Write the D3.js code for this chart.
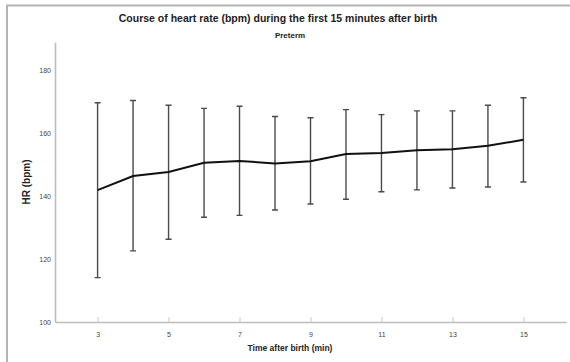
<!DOCTYPE html>
<html>
<head>
<meta charset="utf-8">
<script src="https://cdn.jsdelivr.net/npm/d3@7"></script>
<style>
    body { margin: 0; background: #fff; }
    text { font-family: "Liberation Sans", Arial, sans-serif; }
</style>
</head>
<body>
<div id="chart"></div>
<script>
    // minutes after birth
    var minutes = [3, 4, 5, 6, 7, 8, 9, 10, 11, 12, 13, 14, 15];
    // mean HR and error bar limits (bpm)
    var meanHR  = [141.9, 146.4, 147.7, 150.6, 151.2, 150.4, 151.1, 153.4, 153.7, 154.6, 154.9, 156.0, 157.9];
    var upperHR = [169.7, 170.4, 168.9, 167.9, 168.6, 165.3, 164.9, 167.5, 165.9, 167.1, 167.1, 168.9, 171.3];
    var lowerHR = [114.1, 122.6, 126.3, 133.3, 133.9, 135.6, 137.5, 139.0, 141.4, 142.0, 142.6, 142.9, 144.5];
    var xTicks = [3, 5, 7, 9, 11, 13, 15];
    var yTicks = [100, 120, 140, 160, 180];

    (function () {
        'use strict';

        var w = 570,
            h = 362,
            plotLeft = 55,
            plotRight = 566,
            plotTop = 42,
            plotBottom = 322,
            capW = 6;

        var rows = minutes.map(function (m, i) {
            return { x: m, mean: meanHR[i], hi: upperHR[i], lo: lowerHR[i] };
        });

        var x = d3.scaleLinear().domain([1.8, 16.2]).range([plotLeft, plotRight]);
        var y = d3.scaleLinear().domain([100, 189]).range([plotBottom, plotTop]);

        var svg = d3.select("#chart").append("svg")
            .attr("width", w)
            .attr("height", h);

        // outer frame (top and left edges only)
        svg.append("path")
            .attr("d", "M7,362V5.5H570")
            .attr("fill", "none")
            .attr("stroke", "#b4b4b4")
            .attr("stroke-width", 2);

        // titles
        svg.append("text")
            .attr("x", 278).attr("y", 22)
            .attr("text-anchor", "middle")
            .attr("font-size", 10.5).attr("font-weight", "bold")
            .attr("fill", "#222")
            .text("Course of heart rate (bpm) during the first 15 minutes after birth");
        svg.append("text")
            .attr("x", 290).attr("y", 37.5)
            .attr("text-anchor", "middle")
            .attr("font-size", 8).attr("font-weight", "bold")
            .attr("fill", "#222")
            .text("Preterm");

        // axes
        var xAxis = svg.append("g")
            .attr("transform", "translate(0," + plotBottom + ")")
            .call(d3.axisBottom(x).tickValues(xTicks).tickSizeInner(-5).tickSizeOuter(0).tickPadding(10));
        var yAxis = svg.append("g")
            .attr("transform", "translate(" + plotLeft + ",0)")
            .call(d3.axisLeft(y).tickValues(yTicks).tickSize(0).tickPadding(4));

        [xAxis, yAxis].forEach(function (g) {
            g.select(".domain").attr("stroke", "#bdbdbd").attr("stroke-width", 1.6);
            g.selectAll(".tick line").attr("stroke", "#c8c8c8");
            g.selectAll(".tick text")
                .attr("fill", "#444")
                .attr("font-size", 7)
                .attr("font-family", "Liberation Sans, Arial, sans-serif");
        });

        svg.append("text")
            .attr("transform", "translate(30,182) rotate(-90)")
            .attr("text-anchor", "middle")
            .attr("font-size", 10).attr("font-weight", "bold")
            .attr("fill", "#222")
            .text("HR (bpm)");
        svg.append("text")
            .attr("x", 290).attr("y", 351)
            .attr("text-anchor", "middle")
            .attr("font-size", 8.5).attr("font-weight", "bold")
            .attr("fill", "#222")
            .text("Time after birth (min)");

        // error bars
        var bars = svg.append("g")
            .attr("stroke", "#4a4a4a")
            .attr("stroke-width", 1.4)
            .attr("fill", "none");
        bars.selectAll("path")
            .data(rows)
            .enter().append("path")
            .attr("d", function (d) {
                var cx = x(d.x);
                return "M" + (cx - capW / 2) + "," + y(d.hi) + "H" + (cx + capW / 2) +
                    "M" + cx + "," + y(d.hi) + "V" + y(d.lo) +
                    "M" + (cx - capW / 2) + "," + y(d.lo) + "H" + (cx + capW / 2);
            });

        // mean line
        var line = d3.line()
            .x(function (d) { return x(d.x); })
            .y(function (d) { return y(d.mean); });
        svg.append("path")
            .datum(rows)
            .attr("d", line)
            .attr("fill", "none")
            .attr("stroke", "#111")
            .attr("stroke-width", 2);
    })();
</script>
</body>
</html>
